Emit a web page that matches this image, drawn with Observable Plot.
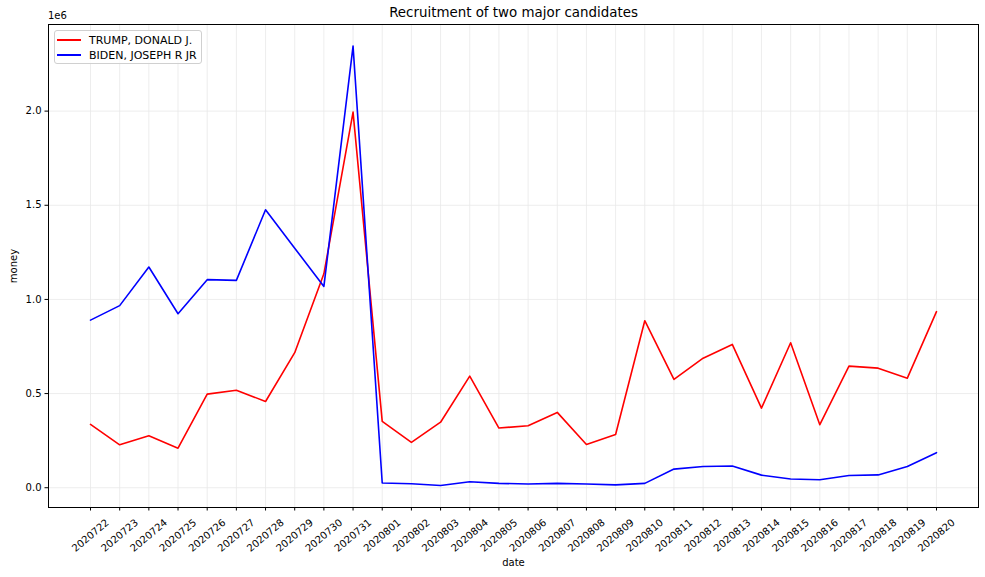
<!DOCTYPE html>
<html>
<head>
<meta charset="utf-8">
<script src="https://cdn.jsdelivr.net/npm/d3@7"></script>
<script src="https://cdn.jsdelivr.net/npm/@observablehq/plot@0.6"></script>
<style>
  html, body { margin: 0; padding: 0; background: #fff; }
  #wrap { position: relative; width: 985px; height: 577px; font-family: "DejaVu Sans", sans-serif; color: #000; }
  #wrap svg { position: absolute; left: 0; top: 0; }
  .ov { position: absolute; white-space: nowrap; }
</style>
</head>
<body>
<div id="wrap"></div>
<script>
const dates = ["2020722","2020723","2020724","2020725","2020726","2020727","2020728","2020729","2020730","2020731",
  "2020801","2020802","2020803","2020804","2020805","2020806","2020807","2020808","2020809","2020810",
  "2020811","2020812","2020813","2020814","2020815","2020816","2020817","2020818","2020819","2020820"];
const trump = [336000, 228000, 276000, 210000, 497000, 518000, 458000, 717000, 1136000, 1995000,
  352000, 241000, 348000, 593000, 317000, 329000, 400000, 230000, 283000, 887000,
  575000, 688000, 761000, 423000, 770000, 335000, 646000, 635000, 582000, 935000];
const biden = [890000, 967000, 1172000, 924000, 1105000, 1101000, 1476000, 1272000, 1069000, 2345000,
  25000, 21000, 12000, 32000, 23000, 20000, 23000, 20000, 15000, 23000,
  99000, 113000, 115000, 67000, 46000, 42000, 65000, 68000, 113000, 186000];
const seriesNames = ["TRUMP, DONALD J.", "BIDEN, JOSEPH R JR"];
const seriesColors = ["#ff0000", "#0000ff"];
const yTicks = [0, 500000, 1000000, 1500000, 2000000];
const title = "Recruitment of two major candidates";
const xLabel = "date";
const yLabel = "money";

const rows = [];
dates.forEach((d, i) => {
  rows.push({i, date: d, series: seriesNames[0], value: trump[i]});
  rows.push({i, date: d, series: seriesNames[1], value: biden[i]});
});
const idx = dates.map((d, i) => i);

const chart = Plot.plot({
  width: 985,
  height: 577,
  marginLeft: 48,
  marginRight: 7,
  marginTop: 24,
  marginBottom: 70,
  style: {fontFamily: "DejaVu Sans, sans-serif", fontSize: "10px", color: "#000", background: "transparent"},
  x: {type: "linear", domain: [-1.44, dates.length - 1 + 1.44]},
  y: {domain: [-105000, 2460000]},
  color: {domain: seriesNames, range: seriesColors},
  marks: [
    Plot.gridX(idx, {stroke: "#e8e8e8", strokeOpacity: 1, strokeWidth: 0.8}),
    Plot.gridY(yTicks, {stroke: "#e8e8e8", strokeOpacity: 1, strokeWidth: 0.8}),
    Plot.lineY(rows, {x: "i", y: "value", stroke: "series", strokeWidth: 1.6, z: "series"}),
    Plot.frame({stroke: "#000", strokeWidth: 1}),
    Plot.axisY(yTicks, {tickFormat: d => (d / 1e6).toFixed(1), tickSize: 3.5, tickPadding: 3.5, fontSize: 10, label: null, stroke: "#000"}),
    Plot.axisX(idx, {tickFormat: () => "", tickSize: 3.5, label: null, stroke: "#000"}),
    Plot.text(idx, {x: d => d, text: d => dates[d], frameAnchor: "bottom", dy: 28, rotate: -40,
      textAnchor: "middle", lineAnchor: "middle", fontSize: 10, fill: "#000"})
  ]
});

const wrap = document.getElementById("wrap");
wrap.appendChild(chart);

function addText(txt, css) {
  const d = document.createElement("div");
  d.className = "ov";
  d.textContent = txt;
  Object.assign(d.style, css);
  wrap.appendChild(d);
  return d;
}
addText(title, {left: "21px", width: "985px", textAlign: "center", top: "5px", fontSize: "13.4px"});
addText("1e6", {left: "48px", top: "10px", fontSize: "10px"});
addText(xLabel, {left: "500px", width: "27px", textAlign: "center", top: "557px", fontSize: "10px"});
addText(yLabel, {left: "13px", top: "266px", fontSize: "10px", transform: "translate(-50%,-50%) rotate(-90deg)"});

// legend
const leg = document.createElement("div");
Object.assign(leg.style, {position: "absolute", left: "54px", top: "30px", width: "148px", height: "34px",
  border: "1px solid #d0d0d0", borderRadius: "3px", background: "rgba(255,255,255,0.8)", boxSizing: "border-box"});
wrap.appendChild(leg);
seriesNames.forEach((name, k) => {
  const row = document.createElement("div");
  Object.assign(row.style, {position: "absolute", left: "2px", top: (2 + 15 * k) + "px", height: "14px", display: "flex", alignItems: "center", fontSize: "11px"});
  const ln = document.createElement("div");
  Object.assign(ln.style, {width: "24px", height: "2px", background: seriesColors[k], marginRight: "8px"});
  const tx = document.createElement("span");
  tx.textContent = name;
  row.appendChild(ln);
  row.appendChild(tx);
  leg.appendChild(row);
});
</script>
</body>
</html>
